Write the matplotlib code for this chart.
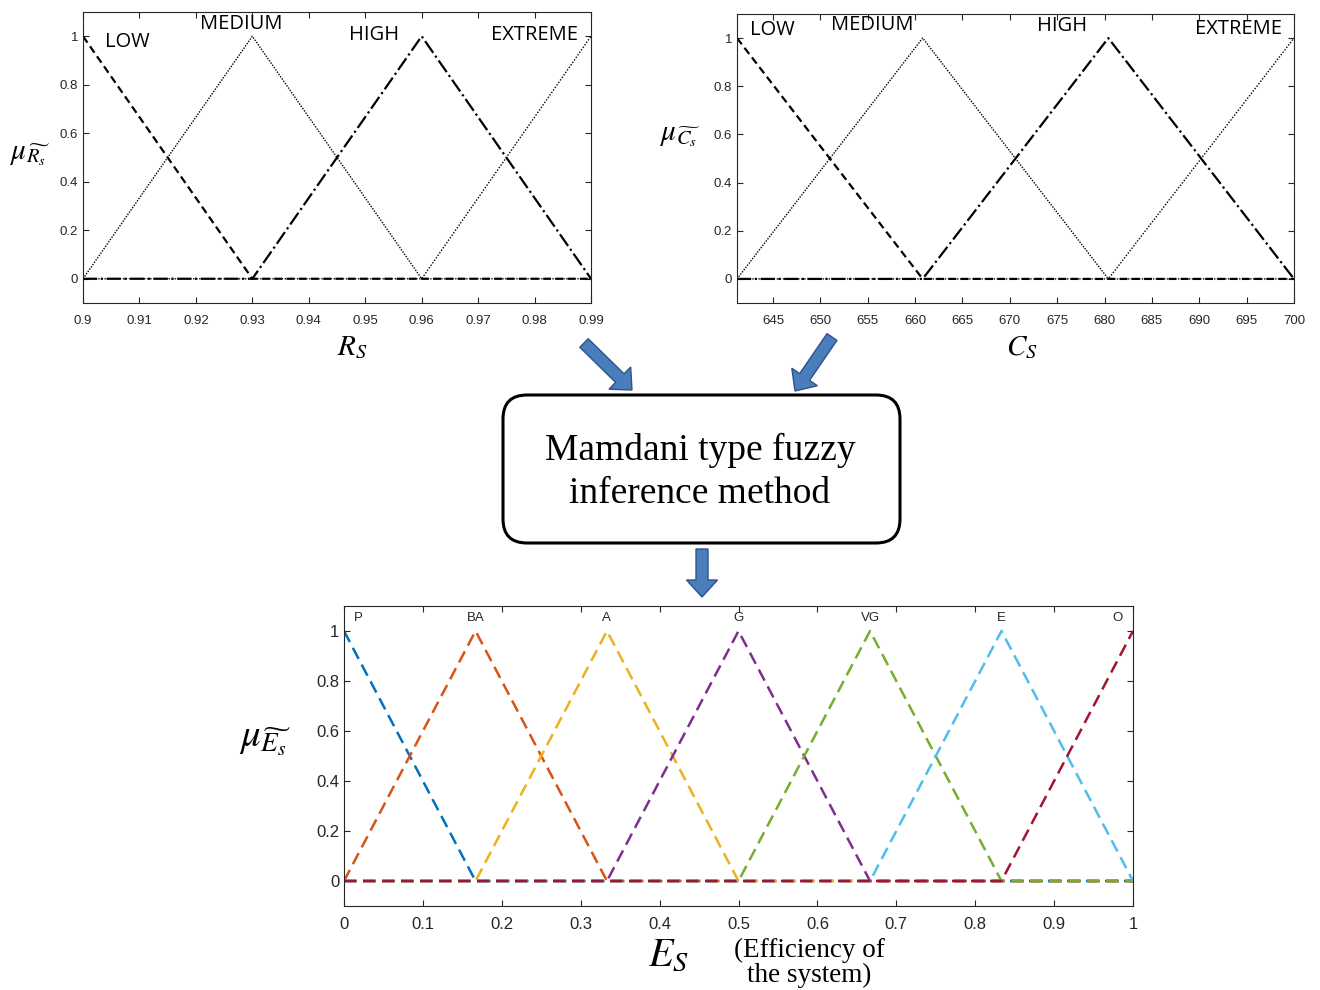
import matplotlib
matplotlib.use("Agg")
import matplotlib.pyplot as plt
from matplotlib.patches import FancyArrow, FancyBboxPatch
from matplotlib.transforms import IdentityTransform

plt.rcParams['mathtext.fontset'] = 'stix'
plt.rcParams['font.family'] = ['Liberation Sans', 'DejaVu Sans']

# --- membership functions: breakpoints (x) and grades (y) ---
rs_ticks = [0.9, 0.91, 0.92, 0.93, 0.94, 0.95, 0.96, 0.97, 0.98, 0.99]
rs_tick_labels = ['0.9', '0.91', '0.92', '0.93', '0.94', '0.95', '0.96', '0.97', '0.98', '0.99']
rs_names = ['LOW', 'MEDIUM', 'HIGH', 'EXTREME']
rs_x = [[0.9, 0.93, 0.99],
        [0.9, 0.93, 0.96, 0.99],
        [0.9, 0.93, 0.96, 0.99],
        [0.9, 0.96, 0.99]]
rs_y = [[1, 0, 0],
        [0, 1, 0, 0],
        [0, 0, 1, 0],
        [0, 0, 1]]

cs_ticks = [645, 650, 655, 660, 665, 670, 675, 680, 685, 690, 695, 700]
cs_names = ['LOW', 'MEDIUM', 'HIGH', 'EXTREME']
cs_x = [[641.2, 660.8, 700],
        [641.2, 660.8, 680.4, 700],
        [641.2, 660.8, 680.4, 700],
        [641.2, 680.4, 700]]
cs_y = [[1, 0, 0],
        [0, 1, 0, 0],
        [0, 0, 1, 0],
        [0, 0, 1]]

es_ticks = [0, 0.1, 0.2, 0.3, 0.4, 0.5, 0.6, 0.7, 0.8, 0.9, 1]
es_tick_labels = ['0', '0.1', '0.2', '0.3', '0.4', '0.5', '0.6', '0.7', '0.8', '0.9', '1']
es_names = ['P', 'BA', 'A', 'G', 'VG', 'E', 'O']
es_x = [[0, 0.1667, 1],
        [0, 0.1667, 0.3333, 1],
        [0, 0.1667, 0.3333, 0.5, 1],
        [0, 0.3333, 0.5, 0.6667, 1],
        [0, 0.5, 0.6667, 0.8333, 1],
        [0, 0.6667, 0.8333, 1],
        [0, 0.8333, 1]]
es_y = [[1, 0, 0],
        [0, 1, 0, 0],
        [0, 0, 1, 0, 0],
        [0, 0, 1, 0, 0],
        [0, 0, 1, 0, 0],
        [0, 0, 1, 0],
        [0, 0, 1]]
es_colors = ['#0072BD', '#D95319', '#EDB120', '#7E2F8E', '#77AC30', '#4DBEEE', '#A2142F']

mu_ticks = [0, 0.2, 0.4, 0.6, 0.8, 1]
mu_tick_labels = ['0', '0.2', '0.4', '0.6', '0.8', '1']

W, H = 1320, 990
fig = plt.figure(figsize=(W / 100, H / 100), dpi=100)


def px_axes(l, t, r, b):
    return fig.add_axes([l / W, 1 - b / H, (r - l) / W, (b - t) / H])


def style(ax, size, xpad):
    ax.set_ylim(-0.1, 1.1)
    ax.set_yticks(mu_ticks)
    ax.set_yticklabels(mu_tick_labels)
    ax.tick_params(direction='in', top=True, right=True, length=4,
                   labelsize=size, colors='#262626', labelcolor='#262626')
    ax.tick_params(axis='x', pad=xpad)
    for s in ax.spines.values():
        s.set_color('#262626')
        s.set_linewidth(0.8)


top_styles = [dict(ls=(0, (3.5, 2)), lw=1.6),
              dict(ls=(0, (1, 1)), lw=1.0),
              dict(ls='-.', lw=1.6),
              dict(ls=(0, (1, 1.2)), lw=1.0)]

# R_s
ax1 = px_axes(83, 12, 591, 303)
for xs, ys, st in zip(rs_x, rs_y, top_styles):
    ax1.plot(xs, ys, color='black', **st)
ax1.set_xlim(0.9, 0.99)
ax1.set_xticks(rs_ticks)
ax1.set_xticklabels(rs_tick_labels)
style(ax1, 9.5, 9)
for name, x, y in zip(rs_names, [0.9078, 0.928, 0.9516, 0.980], [0.975, 1.049, 1.004, 1.004]):
    ax1.text(x, y, name, family='Open Sans', fontsize=14.5, ha='center', va='center')

# C_s
ax2 = px_axes(737, 14, 1294, 303)
for xs, ys, st in zip(cs_x, cs_y, top_styles):
    ax2.plot(xs, ys, color='black', **st)
ax2.set_xlim(641.2, 700)
ax2.set_xticks(cs_ticks)
style(ax2, 9.5, 9)
for name, x, y in zip(cs_names, [644.9, 655.45, 675.5, 694.1], [1.033, 1.054, 1.05, 1.037]):
    ax2.text(x, y, name, family='Open Sans', fontsize=14.5, ha='center', va='center')

# E_s
ax3 = px_axes(344, 606, 1133, 906)
for xs, ys, c in zip(es_x, es_y, es_colors):
    ax3.plot(xs, ys, color=c, ls=(0, (5, 2.6)), lw=1.8)
ax3.set_xlim(0, 1)
ax3.set_xticks(es_ticks)
ax3.set_xticklabels(es_tick_labels)
style(ax3, 12, 8)
for name, x in zip(es_names, [0.018, 0.167, 0.332, 0.5, 0.667, 0.833, 0.98]):
    ax3.text(x, 1.052, name, fontsize=9.5, ha='center', va='center', color='#262626')


def ftext(x, y, s, **kw):
    fig.text(x / W, 1 - y / H, s, ha='center', va='center', **kw)


ftext(30, 155, r'$\mu_{\widetilde{R_s}}$', fontsize=21)
ftext(680, 135, r'$\mu_{\widetilde{C_s}}$', fontsize=21)
ftext(265, 740, r'$\mu_{\widetilde{E_s}}$', fontsize=28)
ftext(352, 347, r'$R_S$', fontsize=21)
ftext(1022, 347, r'$C_S$', fontsize=21)
ftext(668, 955, r'$E_S$', fontsize=29)
ftext(809, 963, '(Efficiency of\nthe system)', family='Liberation Serif', fontsize=19.5,
      linespacing=1.0)

# inference box
box = FancyBboxPatch((503, H - 543), 397, 148, boxstyle='round,pad=0,rounding_size=24',
                     transform=IdentityTransform(), facecolor='white', edgecolor='black', lw=2.2)
fig.patches.append(box)
ftext(700, 472, 'Mamdani type fuzzy\ninference method', family='Liberation Serif',
      fontsize=27, linespacing=1.3)

# arrows between panels (pixel coordinates)
for (x0, y0), (x1, y1) in [((584, 343), (632, 390)),
                           ((832, 337), (795, 391)),
                           ((702, 549), (702, 597))]:
    arr = FancyArrow(x0, H - y0, x1 - x0, -(y1 - y0), width=12, head_width=31,
                     head_length=17, length_includes_head=True,
                     transform=IdentityTransform(), facecolor='#4A7EBB',
                     edgecolor='#2F528F', lw=1)
    fig.patches.append(arr)

fig.savefig('out.png', dpi=100)
